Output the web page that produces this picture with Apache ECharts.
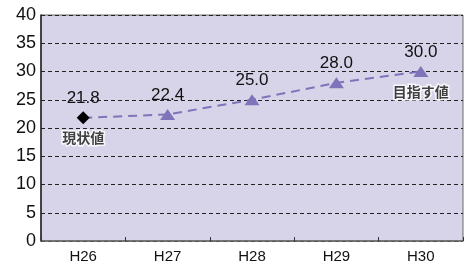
<!DOCTYPE html>
<html>
<head>
<meta charset="utf-8">
<script src="https://cdn.jsdelivr.net/npm/echarts@6/dist/echarts.min.js"></script>
<style>
	html, body { margin: 0; padding: 0; background: #fff; }
	#chart { width: 465px; height: 265px; }
</style>
</head>
<body>
<div id="chart"></div>
<script>
	// 年度と値
	const years = ['H26', 'H27', 'H28', 'H29', 'H30'];
	const values = [21.8, 22.4, 25.0, 28.0, 30.0];
	const notes = ['現状値', '', '', '', '目指す値'];
	const yTicks = [0, 5, 10, 15, 20, 25, 30, 35, 40];

	const purple = '#7f74b9';
	const myChart = echarts.init(document.getElementById('chart'));

	const lineData = values.map((v, i) => {
		if (i === 0) {
			return { value: v, symbol: 'diamond', symbolSize: [13, 13], itemStyle: { color: '#000' } };
		}
		return v;
	});

	const options = {
		animation: false,
		grid: {
			left: 41,
			right: 2,
			top: 15,
			bottom: 24,
			show: true,
			backgroundColor: '#d7d4ea',
			borderColor: '#6a6a6a',
			borderWidth: 1
		},
		xAxis: {
			type: 'category',
			data: years,
			boundaryGap: true,
			axisLine: { lineStyle: { color: '#666', width: 1.5 } },
			axisTick: { show: true, length: 4, inside: true, lineStyle: { color: '#333' } },
			axisLabel: { color: '#111', fontFamily: 'Arial, Liberation Sans', fontSize: 15, margin: 8 }
		},
		yAxis: {
			type: 'value',
			min: yTicks[0],
			max: yTicks[yTicks.length - 1],
			interval: 5,
			axisLine: { show: true, lineStyle: { color: '#222', width: 1.5 } },
			axisTick: { show: false },
			axisLabel: { color: '#111', fontFamily: 'Arial, Liberation Sans', fontSize: 18, margin: 5 },
			splitLine: { lineStyle: { color: '#222', type: [4, 3], width: 1 } }
		},
		series: [
			{
				type: 'line',
				data: lineData,
				symbol: 'triangle',
				symbolSize: [15, 11],
				itemStyle: { color: purple },
				lineStyle: { color: purple, width: 2, type: [9, 6] },
				label: {
					show: true,
					position: 'top',
					distance: 5,
					color: '#111',
					fontFamily: 'Arial, Liberation Sans',
					fontSize: 17,
					formatter: p => values[p.dataIndex].toFixed(1)
				},
				z: 3
			},
			{
				// 注記ラベル
				type: 'scatter',
				data: values.map((v, i) => [i, v]),
				symbolSize: 2,
				itemStyle: { color: 'rgba(0,0,0,0)' },
				silent: true,
				label: {
					show: true,
					position: 'bottom',
					distance: 12,
					color: '#111',
					fontFamily: 'Noto Sans CJK JP',
					fontSize: 14,
					fontWeight: 'bold',
					textBorderColor: '#fff',
					textBorderWidth: 3,
					formatter: p => notes[p.dataIndex]
				},
				z: 4
			}
		]
	};

	myChart.setOption(options);
</script>
</body>
</html>
